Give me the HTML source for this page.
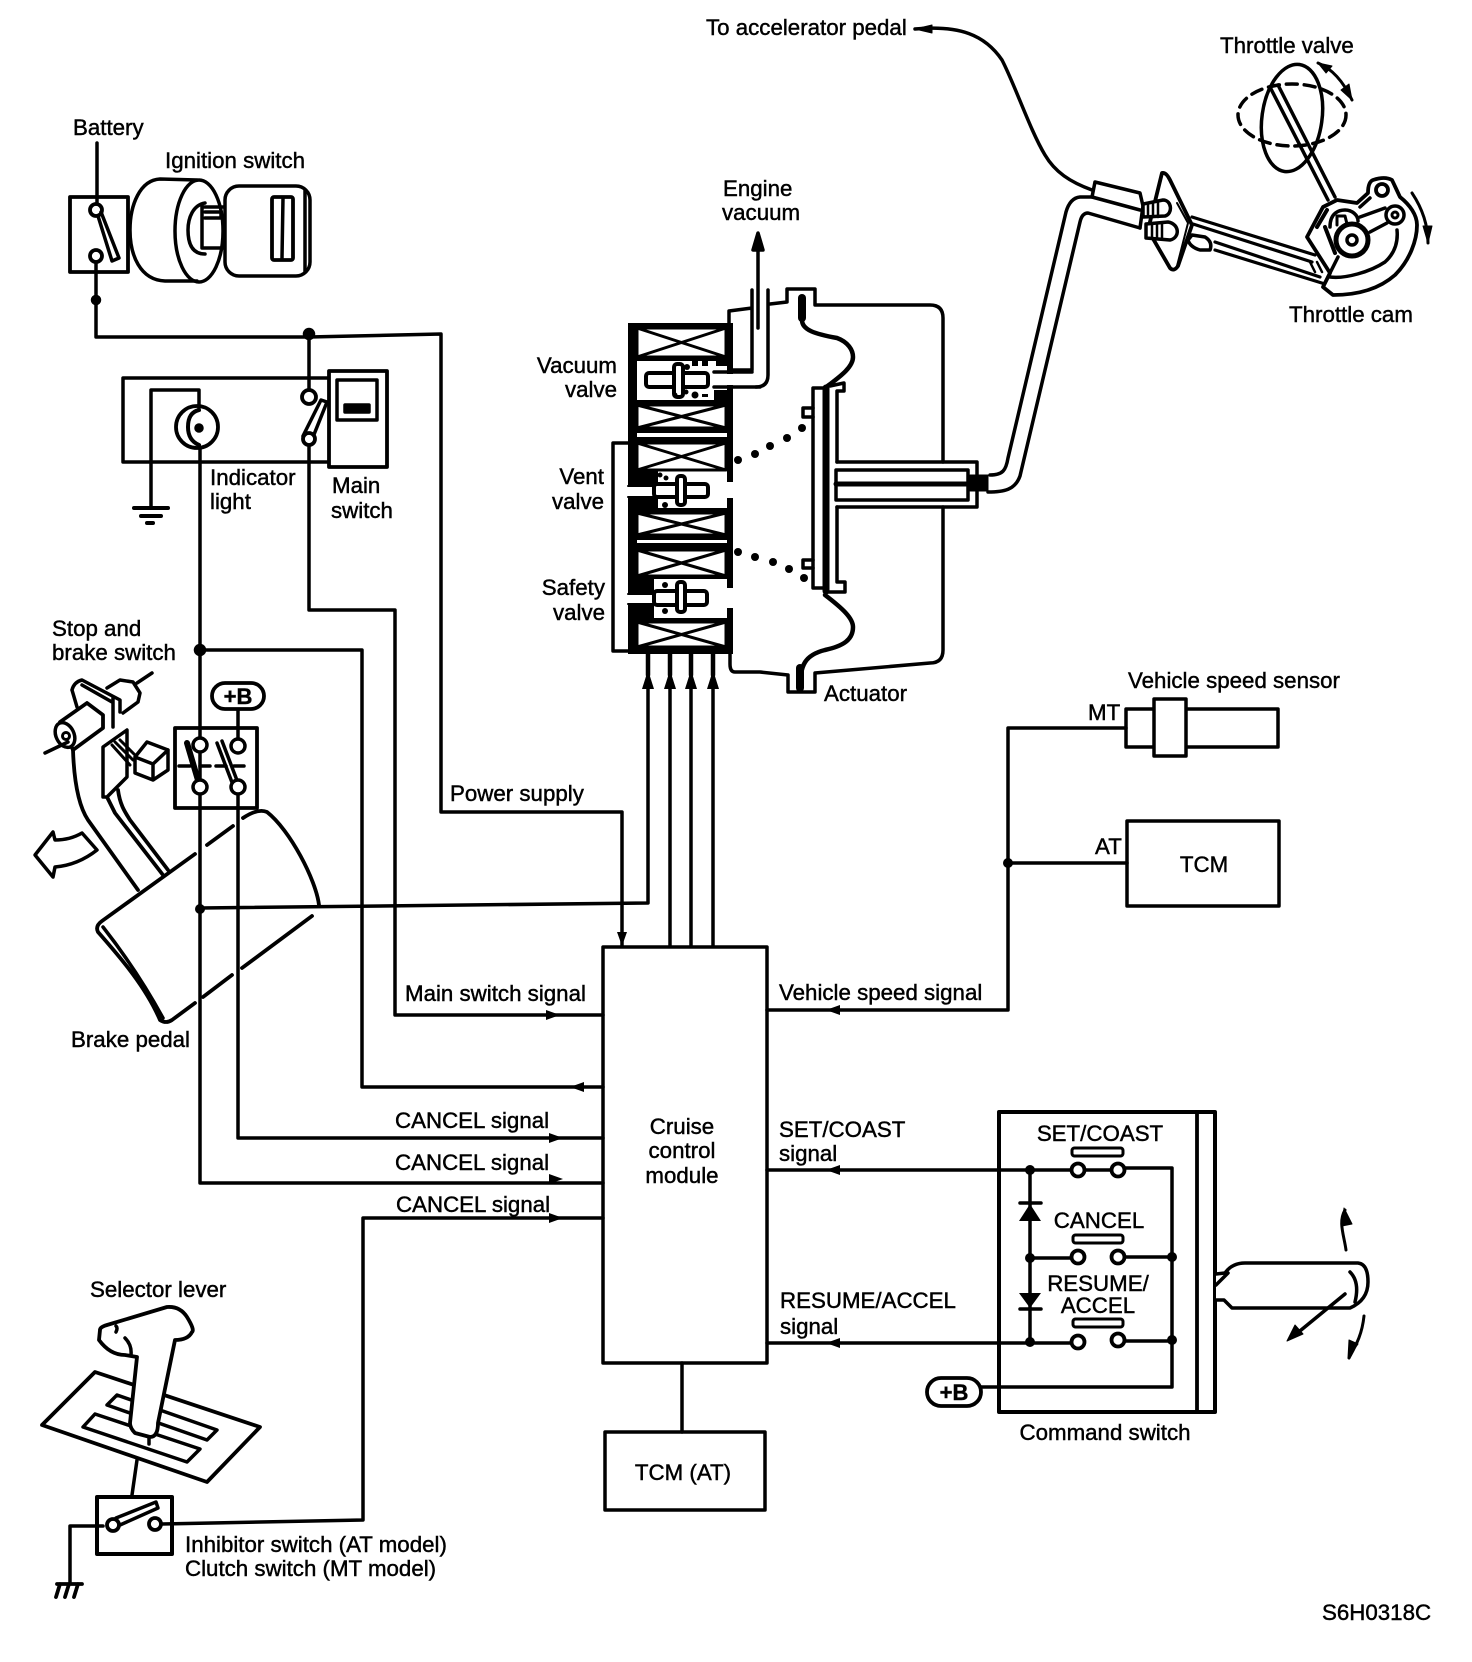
<!DOCTYPE html>
<html><head><meta charset="utf-8"><style>
html,body{margin:0;padding:0;background:#fff}
svg{display:block}
text{font-family:"Liberation Sans",sans-serif;font-size:22.3px;fill:#000;stroke:#000;stroke-width:.45}
.e{text-anchor:end}.m{text-anchor:middle}
</style></head><body>
<svg width="1472" height="1662" viewBox="0 0 1472 1662" xmlns="http://www.w3.org/2000/svg">
<rect width="1472" height="1662" fill="#fff"/>
<g fill="none" stroke="#000" stroke-width="3.5" stroke-linejoin="round" stroke-linecap="round">

<!-- wires -->
<path d="M97 143V204M96 262V337H309L441 334V812H622V946"/>
<path d="M309 335V390M309 445V610H395V1015H603"/>
<path d="M200 447V1183H603M200 650H362V1087H603M238 708V739M238 793V1138H603"/>
<path d="M200 908L648 903V653M670 946V653M691 946V653M713 946V653" />
<path d="M648 653V675M670 653V675M691 653V675M713 653V675" stroke-width="4.5"/>
<path d="M767 1010H1008V728H1126M1008 863H1127"/>
<path d="M767 1170H1071M1085 1170H1111M1125 1168H1172V1387H981M1030 1170V1342M1030 1258H1071M1125 1257H1172M767 1343H1071M1125 1341H1172"/>
<path d="M682 1363V1432"/>
<path d="M162 1524L363 1520V1218H603"/>
<path d="M103 1526H70V1583"/>

<!-- central boxes -->
<rect x="603" y="947" width="164" height="416"/>
<rect x="605" y="1432" width="160" height="78"/>
<rect x="1127" y="821" width="152" height="85"/>
<rect x="1126" y="709" width="152" height="38"/>
<rect x="1154" y="699" width="32" height="57" fill="#fff"/>

<!-- battery switch & ignition -->
<rect x="70" y="197" width="58" height="75" stroke-width="3.8"/>
<circle cx="96" cy="210" r="6" fill="#fff" stroke-width="3.8"/>
<circle cx="96" cy="256" r="6" fill="#fff" stroke-width="3.8"/>
<path d="M98 216L112 261L119 258L101 212"/>
<path d="M197 180L160 179C140 180 130 205 130 230C130 255 140 280 165 281L197 281"/>
<ellipse cx="199" cy="231" rx="24" ry="51"/>
<path d="M205 203C193 205 188 218 188 230C188 245 193 254 205 254M202 205V248H224M202 207H228M205 212H221V218H205"/>
<rect x="225" y="186" width="85" height="90" rx="14" fill="#fff"/>
<path d="M305 190V272"/>
<rect x="272" y="197" width="21" height="63" rx="2" stroke-width="3.8"/>
<path d="M283 198L282 258"/>
<circle cx="96" cy="300" r="3.5" fill="#000"/>
<circle cx="309" cy="334" r="4.5" fill="#000"/>

<!-- indicator & main switch -->
<path d="M329 378H123V462H329"/>
<path d="M151 507V390H199V408"/>
<path d="M134 508H168" stroke-width="4"/><path d="M141 516H161" stroke-width="4"/><path d="M147 523H153" stroke-width="4"/>
<circle cx="197" cy="427" r="21" stroke-width="3.8"/>
<path d="M199 410C190 412 188 420 188 427C188 436 192 442 199 445" stroke-width="4"/>
<circle cx="199" cy="428" r="3" fill="#000"/>
<rect x="329" y="371" width="58" height="96" stroke-width="3.8" fill="#fff"/>
<rect x="337" y="380" width="40" height="40"/>
<rect x="345" y="405" width="24" height="7" fill="#000"/>
<circle cx="309" cy="397" r="7" fill="#fff" stroke-width="3.8"/>
<path d="M303 436L321 400L327 402L313 437"/>
<circle cx="309" cy="439" r="6" fill="#fff" stroke-width="3.8"/>

<!-- brake switch -->
<circle cx="200" cy="650" r="4.5" fill="#000"/>
<rect x="212" y="683" width="52" height="26" rx="13" stroke-width="3.8" fill="#fff"/>
<rect x="175" y="728" width="82" height="80" stroke-width="3.8" fill="none"/>
<circle cx="200" cy="745" r="7" fill="#fff"/>
<circle cx="238" cy="746" r="7" fill="#fff"/>
<path d="M187 743L200 787" stroke-width="6"/>
<path d="M217 743L233 785M222 741L238 783"/>
<circle cx="200" cy="787" r="7" fill="#fff"/>
<circle cx="238" cy="787" r="7" fill="#fff"/>
<path d="M179 766H190M200 766H210M216 766H226M234 766H244"/>

<!-- brake pedal -->
<path d="M195 854L102 921Q95 926 98 932C118 955 145 985 160 1020Q166 1024 172 1020L195 1003M203 997L232 975M242 968L312 916M319 905C316 880 290 830 267 812Q258 808 243 818M233 826L207 845" stroke-width="3.8"/>
<path d="M103 927C125 955 145 985 163 1018"/>
<path d="M73 750C74 780 78 805 88 820L138 890M105 793L115 813L163 875M118 790C120 805 125 812 130 820L168 870" stroke-width="3.8"/>
<path d="M72 690Q74 682 82 680L120 700V712M72 690L77 707M82 685L112 702M113 697V727"/>
<path d="M107 688L120 680L133 682L140 693L138 702L123 713M137 683L152 673"/>
<path d="M60 722L87 703L103 715V728L73 750Z" fill="#fff" stroke-width="3.8"/>
<ellipse cx="65" cy="735" rx="9" ry="13" fill="#fff" stroke-width="3.5" transform="rotate(-25 65 735)"/>
<circle cx="66" cy="736" r="3.5" stroke-width="3"/>
<path d="M68 742L45 753"/>
<path d="M103 747L127 730V777L107 797H103Z" fill="#fff"/>
<path d="M112 745L130 765M115 742L133 760M120 740L136 756" stroke-width="3"/>
<path d="M135 757L147 742L168 750V770L153 780L135 773ZM135 757L153 764L168 750M153 764V780" fill="#fff"/>
<path d="M35 855L53 832L55 840Q70 840 82 833L97 850Q78 865 55 867L53 877Z"/>

<!-- selector -->
<path d="M95 1372L260 1427L207 1482L42 1425Z" stroke-width="3.8"/>
<path d="M117 1395L217 1430L207 1440L107 1405Z"/>
<path d="M95 1414L200 1449L187 1462L83 1427Z"/>
<path d="M100 1330Q100 1327 107 1325L167 1307Q180 1306 187 1317Q195 1330 192 1332Q188 1340 175 1340L158 1423Q158 1437 150 1437L135 1433Q130 1428 130 1423L137 1357L125 1355Q110 1355 99 1340Z" fill="#fff" stroke-width="3.8"/>
<path d="M125 1338Q132 1345 131 1355M116 1326Q118 1328 116 1332"/>
<path d="M137 1460L132 1495M149 1437V1444"/>
<rect x="97" y="1497" width="75" height="57" stroke-width="4"/>
<circle cx="113" cy="1525" r="6" fill="#fff" stroke-width="3.8"/>
<circle cx="155" cy="1524" r="6" fill="#fff" stroke-width="3.8"/>
<path d="M116 1518L156 1502L158 1508L120 1525"/>
<path d="M57 1584H82M60 1584L56 1597M69 1584L65 1597M78 1584L74 1597" stroke-width="3.8"/>

<!-- valve stack: tube at left -->
<path d="M628 443H613V651H628"/>
<!-- black masses -->
<g fill="#000" stroke="none">
<rect x="628" y="323" width="105" height="5"/>
<rect x="628" y="323" width="9" height="331"/>
<rect x="637" y="357" width="90" height="4"/>
<rect x="716" y="357" width="17" height="9"/>
<rect x="714" y="390" width="19" height="13"/>
<rect x="637" y="400" width="90" height="5"/>
<rect x="637" y="428" width="90" height="5"/>
<rect x="637" y="437" width="90" height="5"/>
<rect x="628" y="470" width="30" height="16"/>
<rect x="628" y="497" width="30" height="11"/>
<rect x="637" y="508" width="90" height="5"/>
<rect x="637" y="535" width="90" height="5"/>
<rect x="637" y="543" width="90" height="6"/>
<rect x="637" y="576" width="90" height="3"/>
<rect x="628" y="576" width="26" height="18"/>
<rect x="628" y="604" width="26" height="16"/>
<rect x="637" y="618" width="90" height="4"/>
<rect x="628" y="647" width="105" height="7"/>
<rect x="727" y="325" width="6" height="157"/>
<rect x="727" y="498" width="6" height="90"/>
<rect x="727" y="608" width="6" height="46"/>
</g>
<!-- white tube gaps -->
<g fill="#fff" stroke="none">
<rect x="626" y="487" width="28" height="9"/>
<rect x="626" y="595" width="26" height="8"/>
<rect x="714" y="374" width="21" height="11"/>
</g>
<path d="M628 486H654M628 497H654M628 594H654M628 604H654" stroke-width="2"/>
<!-- coils -->
<g fill="#fff" stroke-width="3">
<path d="M637 328H726V357H637ZM637 328L726 357M637 357L726 328"/>
<path d="M637 405H726V428H637ZM637 405L726 428M637 428L726 405"/>
<path d="M637 443H726V470H637ZM637 443L726 470M637 470L726 443"/>
<path d="M637 513H726V535H637ZM637 513L726 535M637 535L726 513"/>
<path d="M637 550H726V576H637ZM637 550L726 576M637 576L726 550"/>
<path d="M637 622H726V647H637ZM637 622L726 647M637 647L726 622"/>
</g>
<!-- valve 1 -->
<rect x="646" y="373" width="62" height="14" rx="3" stroke-width="4"/>
<rect x="674" y="364" width="9" height="33" rx="3" fill="#fff" stroke-width="4"/>
<path d="M714 372H752M714 387H760" stroke-width="3.5"/>
<g fill="#000" stroke="none">
<circle cx="687" cy="367" r="3"/><rect x="692" y="361" width="6" height="5"/><rect x="702" y="361" width="6" height="5"/>
<circle cx="686" cy="392" r="2.5"/><circle cx="695" cy="395" r="3.5"/><circle cx="675" cy="395" r="2.5"/><rect x="702" y="394" width="6" height="3"/>
</g>
<!-- valve 2 -->
<rect x="654" y="484" width="54" height="13" rx="3" stroke-width="4"/>
<rect x="677" y="476" width="8" height="29" rx="3" fill="#fff" stroke-width="4"/>
<g fill="#000" stroke="none"><circle cx="660" cy="475" r="2.5"/><circle cx="666" cy="478" r="2.5"/><circle cx="665" cy="505" r="3"/></g>
<!-- valve 3 -->
<rect x="654" y="591" width="53" height="14" rx="3" stroke-width="4"/>
<rect x="677" y="582" width="8" height="30" rx="3" fill="#fff" stroke-width="4"/>
<g fill="#000" stroke="none"><circle cx="665" cy="585" r="3"/><circle cx="665" cy="611" r="3"/></g>

<!-- vacuum tube -->
<path d="M729 325V311L752 308M752 290V370H729M768 290V375Q768 387 756 387"/>
<path d="M758 328V246"/>
<path d="M758 233L753 250H763Z" fill="#000"/>

<!-- actuator housing -->
<path d="M770 304L787 302V289H815V305H930Q943 305 943 318V462M943 507V650Q943 663 930 663L815 673V692H788V675L760 672H735Q730 672 730 664V653"/>
<path d="M802 300V320C802 330 815 334 837 338C848 342 853 350 853 357C853 368 838 378 825 388" stroke-width="4.5"/>
<path d="M802 298V318" stroke-width="8"/>
<path d="M825 595C842 608 853 618 853 627C853 640 843 646 825 650C805 655 800 665 800 688" stroke-width="4.5"/>
<path d="M800 668V688" stroke-width="8"/>
<path d="M823 388H813V588H823" />
<path d="M826 388V591" stroke-width="7"/>
<path d="M830 386L844 383V391H837V462M837 507V582H845V592H828"/>
<path d="M813 408H803V417H813M813 560H803V568H813"/>
<g fill="#000" stroke="none">
<circle cx="738" cy="460" r="4"/><circle cx="755" cy="454" r="4"/><circle cx="770" cy="446" r="4"/><circle cx="787" cy="438" r="4"/><circle cx="802" cy="428" r="4"/>
<circle cx="738" cy="552" r="4"/><circle cx="755" cy="557" r="4"/><circle cx="773" cy="562" r="4"/><circle cx="789" cy="569" r="4"/><circle cx="804" cy="578" r="4"/>
</g>
<path d="M837 462H977V507H837"/>
<path d="M836 470H968V500H836Z"/>
<path d="M836 484H968" stroke-width="5"/>
<rect x="970" y="475" width="18" height="16" fill="#000" stroke-width="1"/>

<!-- throttle tube -->
<path d="M990 475C1003 475 1006 470 1008 458L1066 212Q1070 198 1080 197H1093"/>
<path d="M988 492C1004 492 1015 490 1020 476L1080 222Q1082 213 1088 213L1140 228"/>
<path d="M915 29C960 25 985 35 1002 60C1015 85 1030 130 1045 155C1055 172 1070 182 1092 190"/>
<path d="M915 29L932 25V33Z" fill="#000" stroke-width="1"/>
<path d="M1095 182L1140 193L1143 206L1140 228M1095 182L1092 197L1140 210"/>
<!-- diamond -->
<path d="M1162 173Q1166 172 1170 180L1192 225L1178 266Q1174 272 1170 268L1148 230Z" fill="#fff" stroke-width="3.8"/>
<path d="M1177 203L1188 223L1177 266" stroke-width="2"/>
<path d="M1143 204L1163 200C1172 200 1173 214 1165 216L1143 217Z" fill="#fff"/>
<path d="M1148 203V217M1153 202V217M1158 201V217" stroke-width="2.5"/>
<path d="M1146 224L1168 222C1180 224 1180 238 1170 240L1146 238Z" fill="#fff"/>
<path d="M1152 224V238M1157 223V238M1162 223V239" stroke-width="2.5"/>
<!-- arms -->
<path d="M1192 217L1315 255M1193 224L1312 262M1215 242L1320 277M1215 250L1325 284" stroke-width="3.2"/>
<path d="M1192 235L1205 237Q1213 242 1210 250L1200 250Q1190 247 1188 240Z" fill="#fff"/>
<path d="M1317 262L1322 272M1310 262L1315 272" stroke-width="2.5"/>
<!-- throttle valve -->
<ellipse cx="1292" cy="118" rx="30" ry="54" transform="rotate(8 1292 118)"/>
<ellipse cx="1292" cy="115" rx="54" ry="31" stroke-dasharray="11 7"/>
<path d="M1270 87L1328 200M1278 85L1335 197"/>
<!-- cam -->
<path d="M1307 237L1323 207L1337 200L1357 203L1368 193Q1368 182 1373 180Q1385 176 1392 180L1400 197C1410 205 1417 215 1417 225C1417 240 1410 260 1395 275C1378 290 1355 295 1333 295L1323 287L1330 273Z" fill="#fff" stroke-width="3.8"/>
<path d="M1330 277C1345 279 1370 272 1385 262C1396 252 1398 240 1397 230"/>
<path d="M1317 227L1327 210M1325 227L1335 253" stroke-width="4"/>
<path d="M1338 257L1328 277M1360 207L1370 198M1370 232L1387 223M1360 217L1385 208"/>
<path d="M1330 227C1330 212 1340 210 1345 210C1352 210 1358 215 1358 221"/>
<path d="M1337 225V216H1345L1347 224" stroke-width="3"/>
<circle cx="1352" cy="240" r="16" fill="#fff" stroke-width="5"/>
<circle cx="1352" cy="240" r="5" stroke-width="3.5"/>
<circle cx="1382" cy="190" r="6" stroke-width="3.8"/>
<circle cx="1395" cy="215" r="9" fill="#fff" stroke-width="3.5"/>
<circle cx="1395" cy="215" r="3" stroke-width="3"/>
<path d="M1318 63C1335 70 1345 85 1352 100" stroke-width="3"/>
<path d="M1318 63L1332 66L1326 73ZM1352 100L1341 90L1349 84Z" fill="#000" stroke-width="1"/>
<path d="M1412 193C1422 208 1428 225 1428 243" stroke-width="3"/>
<path d="M1428 243L1423 226L1432 226Z" fill="#000" stroke-width="1"/>

<!-- command switch -->
<rect x="999" y="1112" width="216" height="300" stroke-width="4"/>
<path d="M1197 1112V1412" stroke-width="3.8"/>
<rect x="1072" y="1148" width="51" height="8" rx="2.5" stroke-width="3"/>
<rect x="1073" y="1235" width="50" height="8" rx="2.5" stroke-width="3"/>
<rect x="1073" y="1319" width="50" height="8" rx="2.5" stroke-width="3"/>
<g fill="#fff" stroke-width="3.8">
<circle cx="1078" cy="1170" r="6.5"/><circle cx="1118" cy="1170" r="6.5"/>
<circle cx="1078" cy="1257" r="6.5"/><circle cx="1118" cy="1257" r="6.5"/>
<circle cx="1078" cy="1342" r="6.5"/><circle cx="1118" cy="1340" r="6.5"/>
</g>
<g fill="#000" stroke="none">
<circle cx="1030" cy="1170" r="5"/><circle cx="1030" cy="1258" r="5"/><circle cx="1030" cy="1342" r="5"/>
<circle cx="1172" cy="1257" r="5"/><circle cx="1172" cy="1340" r="5"/>
<path d="M1030 1204L1041 1221H1019Z"/><path d="M1030 1308L1041 1293H1019Z"/>
<circle cx="1008" cy="863" r="5"/>
<circle cx="200" cy="909" r="5"/>
</g>
<path d="M1020 1203H1041M1020 1309H1041"/>
<rect x="927" y="1378" width="54" height="28" rx="14" stroke-width="3.8" fill="#fff"/>
<path d="M1216 1274L1225 1273Q1232 1263 1245 1263H1358Q1368 1264 1368 1282Q1368 1300 1350 1308H1232L1224 1300H1216" fill="#fff"/>
<path d="M1216 1285L1228 1273M1350 1272Q1360 1282 1355 1302"/>
<path d="M1345 1294L1295 1335"/>
<path d="M1287 1341L1295 1325L1303 1334Z" fill="#000" stroke-width="1"/>
<path d="M1346 1250C1344 1235 1338 1222 1345 1210" stroke-width="3"/>
<path d="M1344 1208L1352 1224L1342 1226Z" fill="#000" stroke-width="1"/>
<path d="M1364 1316C1362 1335 1356 1345 1349 1358" stroke-width="3"/>
<path d="M1348 1358L1349 1340L1358 1344Z" fill="#000" stroke-width="1"/>

<!-- arrowheads on wires -->
<g fill="#000" stroke="none">
<path d="M648 670L642 689H654Z"/><path d="M670 670L664 689H676Z"/><path d="M691 670L685 689H697Z"/><path d="M713 670L707 689H719Z"/>
<path d="M622 946L617 932H627Z"/>
<path d="M560 1015L546 1010V1020Z"/><path d="M570 1087L584 1082V1092Z"/>
<path d="M563 1138L549 1133V1143Z"/><path d="M563 1179L549 1174V1184Z"/><path d="M563 1218L549 1213V1223Z"/>
<path d="M826 1010L840 1005V1015Z"/><path d="M826 1170L840 1165V1175Z"/><path d="M826 1343L840 1338V1348Z"/>
</g>
</g>

<!-- labels -->
<text x="73" y="135">Battery</text>
<text x="165" y="168">Ignition switch</text>
<text x="210" y="485">Indicator</text>
<text x="210" y="509">light</text>
<text x="332" y="493">Main</text>
<text x="331" y="518">switch</text>
<text x="706" y="35">To accelerator pedal</text>
<text x="1220" y="53">Throttle valve</text>
<text x="1289" y="322">Throttle cam</text>
<text x="723" y="196">Engine</text>
<text x="722" y="220">vacuum</text>
<text x="617" y="373" class="e">Vacuum</text>
<text x="617" y="397" class="e">valve</text>
<text x="604" y="484" class="e">Vent</text>
<text x="604" y="509" class="e">valve</text>
<text x="605" y="595" class="e">Safety</text>
<text x="605" y="620" class="e">valve</text>
<text x="824" y="701">Actuator</text>
<text x="52" y="636">Stop and</text>
<text x="52" y="660">brake switch</text>
<text x="71" y="1047">Brake pedal</text>
<text x="1128" y="688">Vehicle speed sensor</text>
<text x="1088" y="720">MT</text>
<text x="1095" y="854">AT</text>
<text x="1204" y="872" class="m">TCM</text>
<text x="450" y="801">Power supply</text>
<text x="405" y="1001">Main switch signal</text>
<text x="779" y="1000">Vehicle speed signal</text>
<text x="395" y="1128">CANCEL signal</text>
<text x="395" y="1170">CANCEL signal</text>
<text x="396" y="1212">CANCEL signal</text>
<text x="682" y="1134" class="m">Cruise</text>
<text x="682" y="1158" class="m">control</text>
<text x="682" y="1183" class="m">module</text>
<text x="779" y="1137">SET/COAST</text>
<text x="779" y="1161">signal</text>
<text x="780" y="1308">RESUME/ACCEL</text>
<text x="780" y="1334">signal</text>
<text x="683" y="1480" class="m">TCM (AT)</text>
<text x="1100" y="1141" class="m">SET/COAST</text>
<text x="1099" y="1228" class="m">CANCEL</text>
<text x="1098" y="1291" class="m">RESUME/</text>
<text x="1098" y="1313" class="m">ACCEL</text>
<text x="1105" y="1440" class="m">Command switch</text>
<text x="90" y="1297">Selector lever</text>
<text x="185" y="1552">Inhibitor switch (AT model)</text>
<text x="185" y="1576">Clutch switch (MT model)</text>
<text x="1322" y="1620">S6H0318C</text>
<text x="238" y="704" class="m" style="font-weight:bold;font-size:22px">+B</text>
<text x="954" y="1400" class="m" style="font-weight:bold;font-size:22px">+B</text>
</svg>
</body></html>
